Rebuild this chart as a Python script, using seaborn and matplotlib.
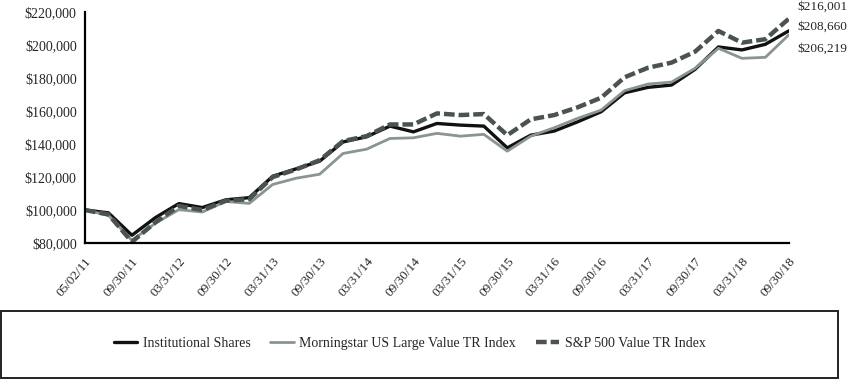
import matplotlib
matplotlib.use("Agg")
import matplotlib.pyplot as plt
import seaborn as sns
import pandas as pd
import numpy as np
from matplotlib.patches import Rectangle
from matplotlib.ticker import FuncFormatter

# ---- data ----
dates = ["05/02/11", "06/30/11", "09/30/11", "12/31/11", "03/31/12", "06/30/12",
         "09/30/12", "12/31/12", "03/31/13", "06/30/13", "09/30/13", "12/31/13",
         "03/31/14", "06/30/14", "09/30/14", "12/31/14", "03/31/15", "06/30/15",
         "09/30/15", "12/31/15", "03/31/16", "06/30/16", "09/30/16", "12/31/16",
         "03/31/17", "06/30/17", "09/30/17", "12/31/17", "03/31/18", "06/30/18",
         "09/30/18"]
institutional = [100000, 98300, 84700, 95400, 103900, 101500, 106200, 107500, 120500,
                 125000, 129600, 141300, 144400, 150900, 147400, 152500, 151500, 150900,
                 137700, 145400, 147900, 153500, 159600, 171100, 174400, 175800, 185300,
                 198900, 197100, 200500, 208660]
morningstar = [100000, 96800, 81600, 92000, 100200, 98800, 105200, 104000, 115500,
               119300, 121700, 134300, 136900, 143400, 143800, 146500, 144800, 145900,
               135700, 144800, 149900, 155600, 160600, 172400, 176400, 177600, 185900,
               198100, 192000, 192600, 206219]
sp500 = [100000, 97300, 80700, 92500, 102500, 100000, 105600, 106600, 120000,
         124600, 130200, 141800, 144800, 151900, 151900, 158600, 157600, 158200,
         145400, 155000, 157600, 162300, 168100, 180500, 186300, 189400, 196000,
         208600, 201500, 203600, 216001]
series_names = ["Institutional Shares", "Morningstar US Large Value TR Index",
                "S&P 500 Value TR Index"]
end_labels = ["$208,660", "$206,219", "$216,001"]

# ---- figure ----
sns.set_style("white")
plt.rcParams["font.family"] = ["Liberation Serif", "DejaVu Serif"]

fig = plt.figure(figsize=(8.5, 3.8), dpi=100)
ax = fig.add_axes([0.1, 0.3605, 0.828, 0.6075])

pos = np.arange(len(dates))
df = pd.DataFrame({"pos": pos, "inst": institutional, "morn": morningstar, "sp": sp500})

sns.lineplot(data=df, x="pos", y="inst", ax=ax, color="#111111", linewidth=2.4,
             label=series_names[0])
sns.lineplot(data=df, x="pos", y="morn", ax=ax, color="#8a9494", linewidth=2.0,
             label=series_names[1])
sns.lineplot(data=df, x="pos", y="sp", ax=ax, color="#4a5252", linewidth=3.2,
             label=series_names[2])
ax.lines[-1].set_dashes((2.4, 0.9))

ax.set_xlim(0, len(dates) - 1)
ax.set_ylim(80000, 220000)
ax.set_yticks(np.arange(80000, 220001, 20000))
ax.yaxis.set_major_formatter(FuncFormatter(lambda v, p: f"${v:,.0f}"))
ax.set_xticks(pos[::2])
ax.set_xticklabels(dates[::2], rotation=50, ha="right", rotation_mode="anchor",
                   fontsize=9.5)
ax.tick_params(axis="y", labelsize=10, length=4, width=1.3, color="black", pad=2)
ax.tick_params(axis="x", length=4, width=1.3, color="black", pad=5)
ax.set_xlabel("")
ax.set_ylabel("")
for s in ["top", "right"]:
    ax.spines[s].set_visible(False)
for s in ["left", "bottom"]:
    ax.spines[s].set_color("black")
    ax.spines[s].set_linewidth(1.6)

# end value labels
last = len(dates) - 1
offsets = [3, -10, 9]
vals = [institutional[-1], morningstar[-1], sp500[-1]]
for lab, v, off in zip(end_labels, vals, offsets):
    ax.annotate(lab, xy=(last, v), xytext=(6, off), textcoords="offset points",
                fontsize=9.5, va="center", ha="left", annotation_clip=False)

# legend box
handles, labels = ax.get_legend_handles_labels()
ax.get_legend().remove()
fig.patches.append(Rectangle((0.001, 0.006), 0.985, 0.176, transform=fig.transFigure,
                             fill=False, edgecolor="#222222", linewidth=1.4))
fig.legend(handles, labels, loc="center", bbox_to_anchor=(0.482, 0.097), ncol=3,
           frameon=False, fontsize=10, handlelength=1.7, handletextpad=0.4,
           columnspacing=1.4)

fig.savefig("out.png", dpi=100)
